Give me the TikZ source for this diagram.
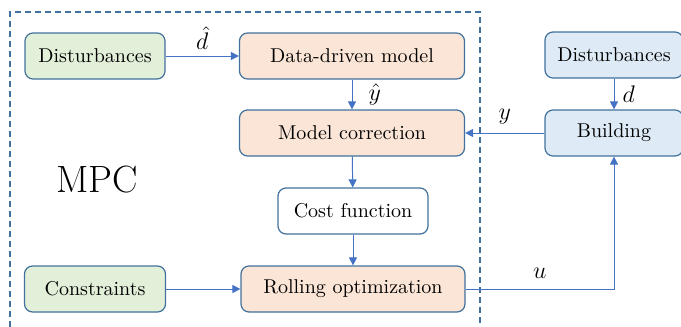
\documentclass[tikz,border=0pt]{standalone}
\usetikzlibrary{arrows.meta}
\definecolor{boxline}{HTML}{41719C}
\definecolor{arrline}{HTML}{4472C4}
\definecolor{greenfill}{HTML}{E2F0D9}
\definecolor{orangefill}{HTML}{FBE5D6}
\definecolor{bluefill}{HTML}{DEEBF7}
\begin{document}
\begin{tikzpicture}[
  x=0.5pt, y=-0.5pt,
  box/.style={draw=boxline, line width=0.6pt, rounded corners=4pt, minimum height=23pt, inner sep=2pt, font=\fontsize{10}{12}\selectfont},
  arr/.style={-{Triangle[length=4pt,width=4pt]}, draw=arrline, line width=0.5pt},
  lbl/.style={font=\fontsize{12}{14}\selectfont, inner sep=2pt}
]
  \useasboundingbox (0,0) rectangle (681,327);
  % MPC frame
  \draw[boxline, line width=0.7pt, dash pattern=on 3pt off 2pt] (10,327) -- (10,12) -- (480,12) -- (480,327);
  \node[font=\fontsize{19}{23}\selectfont] (mpc) at (97,180) {MPC};

  \node[box, fill=greenfill, minimum width=70pt] (distL) at (95,56) {Disturbances};
  \node[box, fill=orangefill, minimum width=112.5pt] (model) at (352,56) {Data-driven model};
  \node[box, fill=orangefill, minimum width=112.5pt] (corr) at (352,133) {Model correction};
  \node[box, fill=white, minimum width=75pt] (cost) at (353,211) {Cost function};
  \node[box, fill=greenfill, minimum width=70.5pt] (cons) at (95,289) {Constraints};
  \node[box, fill=orangefill, minimum width=112pt] (roll) at (353,289) {Rolling optimization};
  \node[box, fill=bluefill, minimum width=69pt] (distR) at (614,55) {Disturbances};
  \node[box, fill=bluefill, minimum width=69pt] (bldg) at (614,133) {Building};

  \draw[arr] (distL) -- node[lbl, above, yshift=1pt] {$\hat{d}$} (model);
  \draw[arr] (model) -- node[lbl, right, xshift=6pt] {$\hat{y}$} (corr);
  \draw[arr] (corr) -- (cost);
  \draw[arr] (cost) -- (roll);
  \draw[arr] (cons) -- (roll);
  \draw[arr] (distR) -- node[lbl, right, xshift=2pt] {$d$} (bldg);
  \draw[arr] (bldg) -- node[lbl, above, yshift=2pt] {$y$} (corr);
  \draw[arr] (roll) -| node[lbl, above, pos=0.25, yshift=3pt] {$u$} (bldg);
\end{tikzpicture}
\end{document}
